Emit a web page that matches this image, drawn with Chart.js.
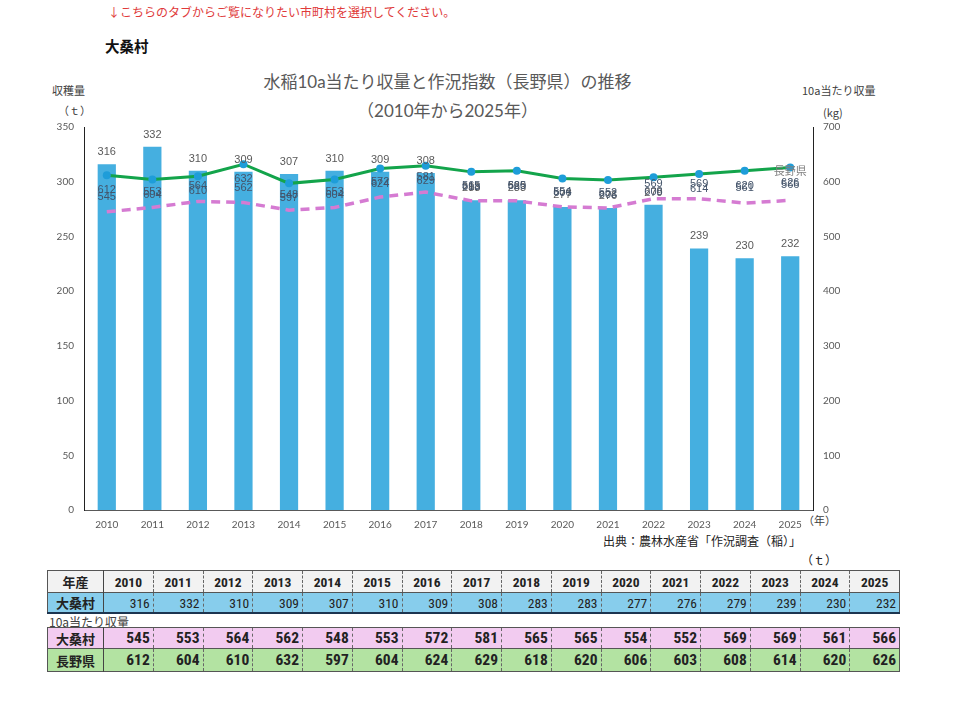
<!DOCTYPE html>
<html><head><meta charset="utf-8">
<script src="https://cdn.jsdelivr.net/npm/chart.js@4"></script>
<style>
html,body{margin:0;padding:0;background:#fff;}
body{position:relative;width:960px;height:701px;overflow:hidden;font-family:"Noto Sans CJK JP","Lato",sans-serif;}
.abs{position:absolute;white-space:nowrap;}
#cv{position:absolute;left:0;top:0;}
table{border-collapse:collapse;position:absolute;table-layout:fixed;}
td{padding:0 3px;box-sizing:border-box;font-family:"Liberation Sans Narrow","Arial Narrow","Roboto Condensed",sans-serif;font-weight:bold;color:#222;}
td.h{font-family:"Noto Sans CJK JP",sans-serif;font-weight:bold;text-align:center;border-right:1px solid #444;font-size:13px;}
td.n{text-align:right;border-right:1px dashed #666;}
</style></head>
<body>
<div class="abs" style="left:108px;top:3px;font-size:12px;color:#E03A3A;">↓こちらのタブからご覧になりたい市町村を選択してください。</div>
<div class="abs" style="left:105px;top:35px;font-size:14.5px;font-weight:bold;color:#111;">大桑村</div>
<div class="abs" style="left:0;width:895px;text-align:center;top:68px;font-size:17px;color:#595959;font-family:Lato,'Noto Sans CJK JP';">水稲10a当たり収量と作況指数（長野県）の推移</div>
<div class="abs" style="left:0;width:895px;text-align:center;top:97px;font-size:17px;color:#595959;font-family:Lato,'Noto Sans CJK JP';">（2010年から2025年）</div>
<div class="abs" style="left:52px;top:82px;font-size:11px;color:#404040;">収穫量</div>
<div class="abs" style="left:58px;top:102px;font-size:11px;color:#404040;">（ｔ）</div>
<div class="abs" style="left:802px;top:82px;font-size:11px;color:#404040;">10a当たり収量</div>
<div class="abs" style="left:823px;top:104px;font-size:11px;color:#404040;">(kg)</div>
<div class="abs" style="left:803px;top:512px;font-size:11px;color:#404040;">（年）</div>
<div class="abs" style="left:603px;top:532px;font-size:12px;color:#222;">出典：農林水産省「作況調査（稲）」</div>
<div class="abs" style="left:801px;top:551px;font-size:12px;color:#222;">（ｔ）</div>
<div class="abs" style="left:49px;top:613px;font-size:12px;color:#404040;">10a当たり収量</div>
<canvas id="cv" width="960" height="560"></canvas>
<table id="t1" style="left:47px;top:570px;"></table>
<table id="t2" style="left:47px;top:627px;"></table>
<script>
const years = ['2010','2011','2012','2013','2014','2015','2016','2017','2018','2019','2020','2021','2022','2023','2024','2025'];
const harvest = [316,332,310,309,307,310,309,308,283,283,277,276,279,239,230,232];
const yieldVillage = [545,553,564,562,548,553,572,581,565,565,554,552,569,569,561,566];
const yieldPref = [612,604,610,632,597,604,624,629,618,620,606,603,608,614,620,626];
const leftTicks = [0,50,100,150,200,250,300,350];
const rightTicks = [0,100,200,300,400,500,600,700];

const labelPlugin = {
  id:'labels',
  afterDatasetsDraw(chart){
    const ctx = chart.ctx;
    ctx.save();
    ctx.textAlign='center';ctx.textBaseline='middle';
    ctx.font='11px "Liberation Sans", Arial, sans-serif';
    const mb = chart.getDatasetMeta(0), mp = chart.getDatasetMeta(1), mg = chart.getDatasetMeta(2);
    ctx.fillStyle='#595959';
    mb.data.forEach((el,i)=>ctx.fillText(String(harvest[i]), el.x, el.y-12));
    ctx.fillStyle='#44546A';
    mp.data.forEach((el,i)=>ctx.fillText(String(yieldVillage[i]), el.x, el.y-15));
    mg.data.forEach((el,i)=>ctx.fillText(String(yieldPref[i]), el.x, el.y+15));
    const last = mg.data[mg.data.length-1];
    ctx.fillStyle='#808080';
    ctx.font='11px "Noto Sans CJK JP", sans-serif';
    ctx.fillText('長野県', last.x, last.y+3);
    ctx.restore();
  }
};

new Chart(document.getElementById('cv'), {
  type:'bar',
  data:{
    labels: years,
    datasets:[
      {type:'bar', label:'大桑村 収穫量', data: harvest, yAxisID:'y', backgroundColor:'#45AFE0', barPercentage:0.4, categoryPercentage:1, order:2},
      {type:'line', label:'大桑村 10a当たり収量', data: yieldVillage, yAxisID:'y2', borderColor:'#D57BD2', borderWidth:3.5, borderDash:[9,6], pointRadius:0, tension:0, order:1},
      {type:'line', label:'長野県', data: yieldPref, yAxisID:'y2', borderColor:'#13A44B', borderWidth:3, pointRadius:4, pointBackgroundColor:'#1E9DD9', pointBorderWidth:0, pointHoverRadius:4, tension:0, order:0}
    ]
  },
  options:{
    responsive:false, animation:false,
    layout:{padding:{left:44,right:107,top:127,bottom:0}},
    plugins:{legend:{display:false},tooltip:{enabled:false},title:{display:false}},
    scales:{
      x:{grid:{display:false,drawTicks:false}, border:{display:true,color:'#595959',width:1},
         ticks:{color:'#595959',font:{family:'Lato',size:10},maxRotation:0,autoSkip:false,padding:9},
         afterFit(s){s.height=50;}},
      y:{position:'left', min:0, max:350, grid:{display:false,drawTicks:false}, border:{display:true,color:'#222',width:1},
         afterBuildTicks(s){s.ticks = leftTicks.map(v=>({value:v}));},
         ticks:{color:'#595959',font:{family:'Lato',size:10},padding:10},
         afterFit(s){s.width=40;}},
      y2:{position:'right', min:0, max:700, grid:{display:false,drawTicks:false}, border:{display:true,color:'#222',width:1},
         afterBuildTicks(s){s.ticks = rightTicks.map(v=>({value:v}));},
         ticks:{color:'#595959',font:{family:'Lato',size:10},padding:10},
         afterFit(s){s.width=40;}}
    }
  },
  plugins:[labelPlugin]
});

// tables
function colgroup(){ let s='<colgroup><col style="width:56px">'; years.forEach(()=>s+='<col style="width:49.75px">'); return s+'</colgroup>'; }
const t1 = document.getElementById('t1');
let h = colgroup();
h += '<tr style="height:22px;background:#F2F2F2;border:1px solid #555;">'+'<td class="h">年産</td>'+years.map(y=>'<td class="n" style="text-align:center;font-size:13.5px;">'+y+'</td>').join('')+'</tr>';
h += '<tr style="height:20px;background:#87CDEC;border:1px solid #555;border-bottom:2px solid #1C3550;">'+'<td class="h">大桑村</td>'+harvest.map(v=>'<td class="n" style="font-size:13.5px;font-weight:normal;">'+v+'</td>').join('')+'</tr>';
t1.innerHTML = h;
t1.style.width='852px';
const t2 = document.getElementById('t2');
let g = colgroup();
g += '<tr style="height:21px;background:#F2CBF0;border:1px solid #555;">'+'<td class="h">大桑村</td>'+yieldVillage.map(v=>'<td class="n" style="font-size:15.5px;">'+v+'</td>').join('')+'</tr>';
g += '<tr style="height:23px;background:#B3E3A2;border:1px solid #555;">'+'<td class="h">長野県</td>'+yieldPref.map(v=>'<td class="n" style="font-size:15.5px;">'+v+'</td>').join('')+'</tr>';
t2.innerHTML = g;
t2.style.width='852px';
</script>
</body></html>
